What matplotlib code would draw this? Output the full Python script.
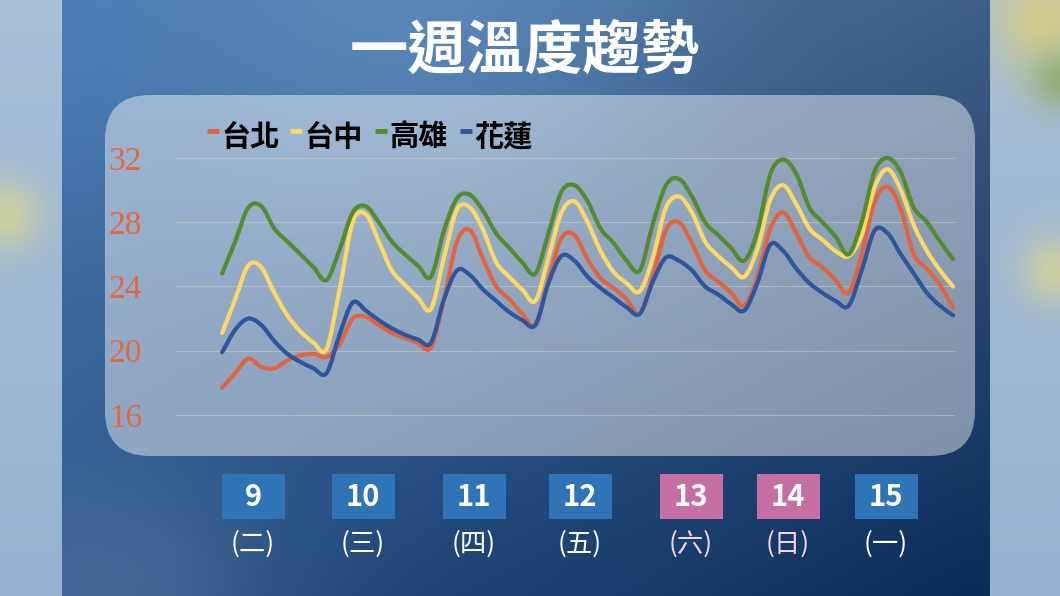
import numpy as np
import matplotlib
matplotlib.use("Agg")
import matplotlib.pyplot as plt
from matplotlib.patches import FancyBboxPatch, Rectangle, PathPatch
from matplotlib.path import Path

CJK = ["Noto Sans CJK TC", "DejaVu Sans"]
plt.rcParams["font.family"] = CJK

# 3-hourly readings over the week (hours from the first point)
hours = list(range(0, 169, 3))

taipei = [17.7, 18.6, 19.5, 19.0, 18.9, 19.4, 19.7, 19.8, 19.6, 20.4, 22.0, 22.1, 21.6, 21.1,
          20.8, 20.5, 20.2, 23.2, 26.8, 27.5, 25.7, 24.0, 23.2, 22.3, 21.6, 24.4, 27.0, 27.2,
          25.7, 24.5, 23.9, 23.2, 22.3, 24.6, 27.5, 28.0, 26.7, 25.0, 24.3, 23.6, 22.8, 24.6,
          27.6, 28.6, 27.3, 25.8, 25.2, 24.4, 23.6, 26.0, 29.3, 30.2, 28.8, 26.0, 25.1, 24.1, 22.7]
taichung = [21.1, 23.2, 25.3, 25.2, 23.6, 22.2, 21.2, 20.5, 20.1, 23.8, 28.0, 28.5, 26.8, 25.0,
            24.1, 23.3, 22.6, 25.8, 28.8, 28.9, 27.5, 25.5, 24.6, 23.8, 23.1, 25.8, 28.6, 29.3,
            28.0, 26.2, 24.9, 24.2, 23.7, 25.8, 28.9, 29.6, 28.6, 26.8, 25.9, 25.2, 24.6, 26.3,
            29.4, 30.3, 29.1, 27.6, 26.9, 26.2, 25.9, 27.2, 30.2, 31.3, 30.0, 27.8, 26.2, 25.0, 24.0]
kaohsiung = [24.8, 26.8, 28.9, 29.0, 27.6, 26.8, 26.0, 25.2, 24.4, 26.3, 28.6, 29.0, 28.0, 26.8,
             26.0, 25.3, 24.6, 27.5, 29.5, 29.7, 28.7, 27.3, 26.4, 25.5, 24.8, 27.3, 29.9, 30.3,
             29.3, 27.6, 26.7, 25.6, 25.0, 27.9, 30.3, 30.7, 29.6, 28.0, 27.2, 26.4, 25.6, 27.4,
             31.0, 31.9, 31.0, 28.9, 28.0, 27.1, 26.0, 28.0, 31.2, 32.0, 31.1, 28.9, 28.0, 26.8, 25.7]
hualien = [19.9, 21.3, 22.0, 21.6, 20.6, 19.8, 19.3, 18.9, 18.6, 21.0, 23.0, 22.5, 21.9, 21.4,
           21.0, 20.7, 20.5, 23.2, 25.0, 24.7, 23.8, 23.1, 22.4, 21.9, 21.6, 24.2, 25.9, 25.6,
           24.6, 23.9, 23.3, 22.7, 22.3, 24.3, 25.8, 25.6, 25.0, 24.0, 23.5, 22.9, 22.5, 24.2,
           26.6, 26.2, 25.1, 24.2, 23.6, 23.1, 22.8, 25.0, 27.5, 27.3, 26.0, 24.8, 23.6, 22.8, 22.2]

series_names = ["台北", "台中", "高雄", "花蓮"]
series_values = [taipei, taichung, kaohsiung, hualien]
series_colors = ["#e3633f", "#fdd862", "#558b2f", "#2f559d"]

y_ticks = [16, 20, 24, 28, 32]
dates = ["9", "10", "11", "12", "13", "14", "15"]
weekdays = ["(二)", "(三)", "(四)", "(五)", "(六)", "(日)", "(一)"]
is_weekend = [False, False, False, False, True, True, False]


def smooth_path(xs, ys):
    """Smoothed line through the points (like a spreadsheet's smoothed line)."""
    p = np.column_stack([xs, ys]).astype(float)
    ext = np.vstack([p[0], p, p[-1]])
    verts = [p[0]]
    codes = [Path.MOVETO]
    for i in range(len(p) - 1):
        p0, p1, p2, p3 = ext[i], ext[i + 1], ext[i + 2], ext[i + 3]
        verts += [p1 + (p2 - p0) / 6, p2 - (p3 - p1) / 6, p2]
        codes += [Path.CURVE4] * 3
    return Path(verts, codes)


W, H = 1060, 596
fig = plt.figure(figsize=(W / 100, H / 100), dpi=100)

# ---- background (pixel coordinates) ----
bg = fig.add_axes([0, 0, 1, 1])
bg.set_xlim(0, W)
bg.set_ylim(H, 0)
bg.axis("off")

yy, xx = np.mgrid[0:H, 0:W].astype(float)
u = (xx / W)[..., None]
v = (yy / H)[..., None]
tl = np.array([76, 128, 184]) / 255
tr = np.array([62, 92, 130]) / 255
bl = np.array([46, 88, 140]) / 255
br = np.array([8, 40, 86]) / 255
img = (tl * (1 - u) + tr * u) * (1 - v) + (bl * (1 - u) + br * u) * v
glow = np.exp(-(((xx - 420) / 260) ** 2 + (yy / 220) ** 2))[..., None]
img += glow * (np.array([104, 152, 200]) / 255 - img) * 0.55
glow2 = np.exp(-(((xx - 110) / 150) ** 2 + ((yy - 590) / 110) ** 2))[..., None]
img += glow2 * (np.array([95, 125, 170]) / 255 - img) * 0.5

# blurred side strips
side = np.array([168, 192, 216]) / 255 * (1 - v) + np.array([150, 178, 208]) / 255 * v
blobs = [(5, 215, 35, (214, 212, 150)), (1045, 20, 55, (220, 205, 120)),
         (1060, 80, 30, (140, 170, 105)), (1055, 270, 35, (215, 210, 150))]
side_img = side * np.ones_like(img)
for bx, by, r, col in blobs:
    m = np.exp(-(((xx - bx) / r) ** 2 + ((yy - by) / r) ** 2))[..., None]
    side_img += m * (np.array(col) / 255 - side_img) * 0.8
mask = ((xx < 62) | (xx >= 990))[..., None]
img = np.where(mask, side_img, img)
bg.imshow(np.clip(img, 0, 1), extent=(0, W, H, 0), aspect="auto", zorder=0)

# translucent rounded panel
panel = FancyBboxPatch((105, 95), 870, 361, boxstyle="round,pad=0,rounding_size=45",
                       facecolor="white", alpha=0.45, edgecolor="none", zorder=1)
bg.add_patch(panel)

# title
bg.text(525, 52, "一週溫度趨勢", color="white", fontsize=42, fontweight="bold",
        ha="center", va="center", zorder=3)

# legend
legend_x = [207, 290, 375, 460]
for x0, name, color in zip(legend_x, series_names, series_colors):
    bg.plot([x0, x0 + 12], [131, 131], color=color, lw=3.5, solid_capstyle="butt", zorder=3)
    bg.text(x0 + 14, 137, name, color="black", fontsize=21, fontweight="bold",
            ha="left", va="center", zorder=3)

# date boxes
box_x = [253, 363, 474, 580, 691, 788, 886]
for cx, d, wd, we in zip(box_x, dates, weekdays, is_weekend):
    face = "#c66fa4" if we else "#2f74b6"
    bg.add_patch(Rectangle((cx - 31.5, 474), 63, 45, facecolor=face, edgecolor="none", zorder=2))
    bg.text(cx, 497, d, color="white", fontsize=21, fontweight="bold",
            ha="center", va="center", zorder=3)
    bg.text(cx, 544, wd, color="#f6d6e2" if we else "white", fontsize=19,
            ha="center", va="center", zorder=3)

# ---- data axes ----
ax_left, ax_right = 176, 955
y_top_px, y_bot_px = 133.9, 439.0
ax = fig.add_axes([ax_left / W, 1 - y_bot_px / H, (ax_right - ax_left) / W,
                   (y_bot_px - y_top_px) / H])
ax.set_facecolor("none")
ax.set_xlim(-10.6, 168.45)
ax.set_ylim(14.5, 33.5)
for s in ax.spines.values():
    s.set_visible(False)
ax.set_xticks([])
ax.set_yticks(y_ticks)
ax.set_yticklabels([str(t) for t in y_ticks], family="Liberation Serif",
                   fontsize=24, color="#e4673f")
ax.tick_params(axis="y", length=0, pad=24.5)
for t in y_ticks:
    ax.axhline(t, color="#e6dccd", lw=0.8, alpha=0.4, zorder=1)

for vals, color in zip(series_values, series_colors):
    ax.add_patch(PathPatch(smooth_path(hours, vals), facecolor="none", edgecolor=color,
                           lw=3.0, joinstyle="round", capstyle="round", zorder=2))

fig.savefig("out.png", dpi=100)
plt.close(fig)
